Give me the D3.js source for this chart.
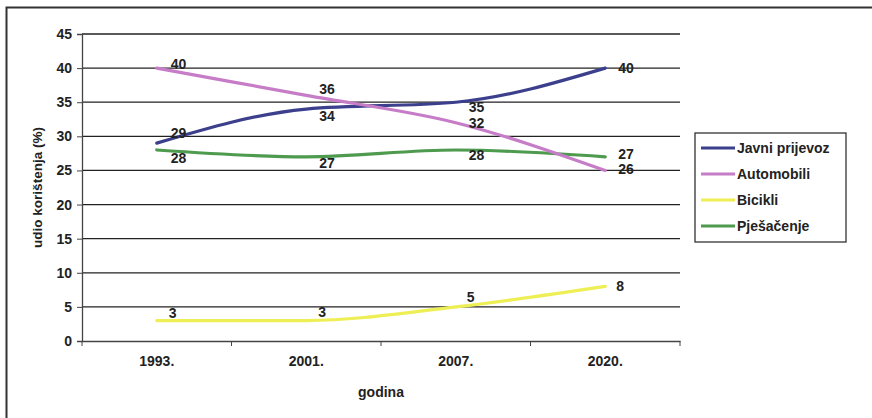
<!DOCTYPE html>
<html>
<head>
<meta charset="utf-8">
<script src="https://cdn.jsdelivr.net/npm/d3@7"></script>
<style>
    body { margin: 0; background: #fff; }
    svg { font-family: "Liberation Sans", Arial, sans-serif; font-weight: bold; }
</style>
</head>
<body>
<svg id="chart" width="872" height="418"></svg>
<script>
// data
let years = ["1993.", "2001.", "2007.", "2020."];
let seriesNames = ["Javni prijevoz", "Automobili", "Bicikli", "Pješačenje"];
let seriesColors = ["#3b3f8c", "#c67cc6", "#eeee55", "#4e9a4e"];
let javni = [29, 34, 35, 40];
let automobili = [40, 36, 32, 25];
let bicikli = [3, 3, 5, 8];
let pjesacenje = [28, 27, 28, 27];
let javniLabels = ["29", "34", "35", "40"];
let autoLabels = ["40", "36", "32", "26"];
let biciklLabels = ["3", "3", "5", "8"];
let pjesLabels = ["28", "27", "28", "27"];
let yTicks = [0, 5, 10, 15, 20, 25, 30, 35, 40, 45];

let svg = d3.select("#chart");
let fontSize = 14;

// outer frame (right and bottom edges are cut off in the original)
svg.append("rect")
    .attr("x", 6.5).attr("y", 7.5)
    .attr("width", 900).attr("height", 500)
    .attr("fill", "none")
    .attr("stroke", "#333")
    .attr("stroke-width", 2);

let margin = {left: 82, top: 34, right: 680, bottom: 341};

let xScale = d3.scaleBand()
    .domain(years)
    .range([margin.left, margin.right]);
let yScale = d3.scaleLinear()
    .domain([0, 45])
    .range([margin.bottom, margin.top]);

// gridlines
svg.append("g")
    .selectAll("line")
    .data(yTicks.filter(d => d > 0))
    .enter().append("line")
    .attr("x1", margin.left).attr("x2", margin.right)
    .attr("y1", d => yScale(d)).attr("y2", d => yScale(d))
    .attr("stroke", "#222")
    .attr("stroke-width", 1.3);

// axes
let yAxis = d3.axisLeft(yScale).tickValues(yTicks).tickSize(5).tickPadding(5);
let gy = svg.append("g")
    .attr("transform", `translate(${margin.left},0)`)
    .call(yAxis);
gy.select(".domain").attr("stroke", "#444").attr("stroke-width", 1.3);
gy.selectAll("line").attr("stroke", "#444");
gy.selectAll("text").attr("font-size", fontSize).attr("font-weight", "bold").attr("fill", "#222")
    .attr("font-family", "Liberation Sans, Arial, sans-serif");

let xAxis = d3.axisBottom(xScale).tickSize(0).tickPadding(15);
let gx = svg.append("g")
    .attr("transform", `translate(0,${margin.bottom})`)
    .call(xAxis);
gx.select(".domain").attr("stroke", "#444").attr("stroke-width", 1.3);
gx.selectAll("text").attr("font-size", fontSize).attr("font-weight", "bold").attr("fill", "#222")
    .attr("font-family", "Liberation Sans, Arial, sans-serif");

// band separator ticks on x axis
svg.append("g")
    .selectAll("line")
    .data(years.concat(["end"]))
    .enter().append("line")
    .attr("x1", (d, i) => i < years.length ? xScale(d) : margin.right)
    .attr("x2", (d, i) => i < years.length ? xScale(d) : margin.right)
    .attr("y1", margin.bottom).attr("y2", margin.bottom + 5)
    .attr("stroke", "#444");

// axis titles
svg.append("text")
    .text("udio korištenja (%)")
    .attr("transform", `translate(42, ${(margin.top + margin.bottom) / 2}) rotate(-90)`)
    .attr("text-anchor", "middle")
    .attr("font-size", 13.5)
    .attr("fill", "#222");
svg.append("text")
    .text("godina")
    .attr("x", (margin.left + margin.right) / 2)
    .attr("y", 397)
    .attr("text-anchor", "middle")
    .attr("font-size", fontSize)
    .attr("fill", "#222");

// lines
let allSeries = [javni, automobili, bicikli, pjesacenje];
let allLabels = [javniLabels, autoLabels, biciklLabels, pjesLabels];

let line = d3.line()
    .x((d, i) => xScale(years[i]) + xScale.bandwidth() / 2)
    .y(d => yScale(d))
    .curve(d3.curveMonotoneX);

let drawOrder = [2, 3, 0, 1];
drawOrder.forEach(function (s) {
    svg.append("path")
        .datum(allSeries[s])
        .attr("d", line)
        .attr("fill", "none")
        .attr("stroke", seriesColors[s])
        .attr("stroke-width", 3.2)
        .attr("stroke-linecap", "round")
        .attr("stroke-linejoin", "round");
});

// data labels: offsets in px per series & point
let labelOffsets = [
    [[14, -10], [13, 7], [13, 5], [13, 0]],
    [[14, -4], [13, -6], [13, 0], [13, -1]],
    [[12, -7], [12, -8], [11, -10], [11, 0]],
    [[14, 8], [13, 6], [13, 5], [13, -3]]
];
allSeries.forEach(function (series, s) {
    svg.append("g")
        .selectAll("text")
        .data(series)
        .enter().append("text")
        .text((d, i) => allLabels[s][i])
        .attr("x", (d, i) => xScale(years[i]) + xScale.bandwidth() / 2 + labelOffsets[s][i][0])
        .attr("y", (d, i) => yScale(d) + labelOffsets[s][i][1])
        .attr("dy", "0.35em")
        .attr("text-anchor", "start")
        .attr("font-size", fontSize)
        .attr("fill", "#222");
});

// legend
let legend = svg.append("g").attr("transform", "translate(695,133)");
legend.append("rect")
    .attr("width", 151).attr("height", 109)
    .attr("fill", "#fff")
    .attr("stroke", "#333")
    .attr("stroke-width", 1.3);
let items = legend.selectAll(".item")
    .data(seriesNames)
    .enter().append("g")
    .attr("class", "item")
    .attr("transform", (d, i) => `translate(0, ${15 + i * 26})`);
items.append("line")
    .attr("x1", 6).attr("x2", 40)
    .attr("stroke", (d, i) => seriesColors[i])
    .attr("stroke-width", 3);
items.append("text")
    .text(d => d)
    .attr("x", 42)
    .attr("dy", "0.35em")
    .attr("font-size", fontSize)
    .attr("fill", "#222");
</script>
</body>
</html>
